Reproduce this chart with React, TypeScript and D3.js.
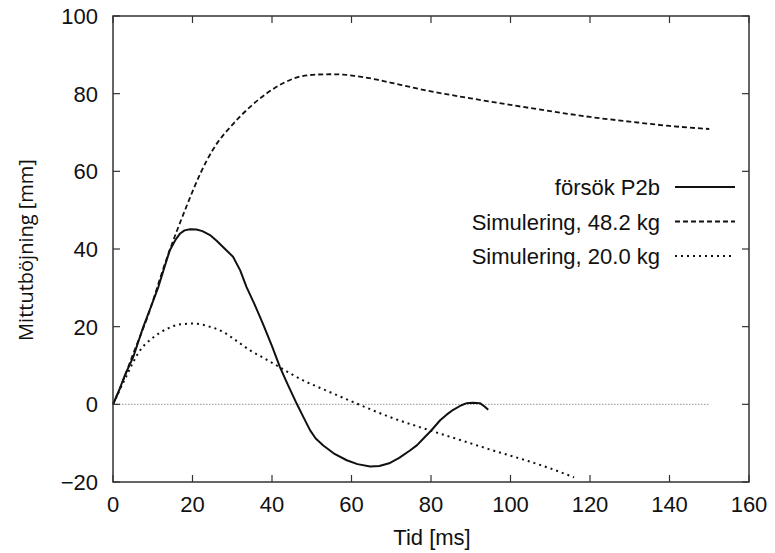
import React from "react";
import * as d3 from "d3";

const xTicks = [0, 20, 40, 60, 80, 100, 120, 140, 160];
const yTicks = [-20, 0, 20, 40, 60, 80, 100];

// försök P2b (measured)
const testX = [0, 1.5, 3, 5.1, 7.6, 9.5, 11.4, 13, 14.3, 15.8, 16.9, 18, 19.4, 21, 22.5, 24.4, 26, 28, 30.2, 32, 33.6, 35.5, 37.7, 40, 42, 44, 46.2, 48, 49.6, 51, 52.9, 55.5, 58.8, 61.5, 64.7, 67, 69.7, 72, 74.7, 76.5, 78.1, 80, 82.3, 84, 85.6, 87.5, 89, 90.5, 92.3, 93.4, 94.4];
const testY = [0, 3.5, 7.5, 12.2, 19.9, 25, 30.2, 35.5, 39.7, 42.5, 44, 44.8, 45.1, 45, 44.6, 43.6, 42.2, 40.2, 38, 34.5, 30.2, 26, 20.8, 15, 9.6, 5, 0.2, -3.5, -6.7, -8.8, -10.6, -12.6, -14.4, -15.4, -16, -15.9, -15.1, -13.8, -11.9, -10.5, -8.8, -6.8, -4.1, -2.6, -1.4, -0.3, 0.3, 0.4, 0.3, -0.5, -1.4];

// Simulering, 48.2 kg
const sim48X = [0, 2.5, 5, 8.5, 13.5, 18.5, 22, 25.2, 30.3, 34.5, 38.7, 43, 47, 51, 54.6, 58, 61.3, 66, 70, 80, 90, 100, 110, 120, 130, 140, 150];
const sim48Y = [0, 6, 12.8, 22, 37.5, 51, 59.5, 65.7, 72.3, 76.6, 80.1, 82.8, 84.4, 84.9, 85, 84.9, 84.5, 83.7, 82.8, 80.6, 78.8, 77.1, 75.5, 74.0, 72.8, 71.7, 70.9];

// Simulering, 20.0 kg
const sim20X = [0, 3, 6.8, 10.1, 13.5, 17, 20.6, 24, 27.8, 31, 34.5, 38, 41.2, 44, 47, 54, 61.3, 70, 79.7, 88, 96, 104.4, 110, 116];
const sim20Y = [0, 6.5, 13.9, 17.2, 19.4, 20.6, 20.8, 20.1, 18.6, 16.4, 13.9, 11.9, 10, 8.3, 6.6, 3.4, 0.2, -3.4, -6.7, -9.4, -12, -14.6, -16.5, -18.8];

const zeroX = [0, 150];

const legendLabels = ["försök P2b", "Simulering, 48.2 kg", "Simulering, 20.0 kg"];

const L = 113, R = 749, T = 16, B = 482;

export default function App() {
  const x = d3.scaleLinear().domain([0, 160]).range([L, R]);
  const y = d3.scaleLinear().domain([-20, 100]).range([B, T]);
  const lineLin = d3.line<[number, number]>().x(d => x(d[0])).y(d => y(d[1]));
  const lineSmooth = d3.line<[number, number]>().x(d => x(d[0])).y(d => y(d[1])).curve(d3.curveMonotoneX);
  const zip = (a: number[], b: number[]) => a.map((v, i) => [v, b[i]] as [number, number]);

  const styles = [
    { dash: undefined as string | undefined, w: 2 },
    { dash: "5,3", w: 1.8 },
    { dash: "2,4", w: 2 },
  ];
  const font = "'Liberation Sans', Arial, sans-serif";
  const axisColor = "#333";
  const fs = 22;

  return (
    <svg width={775} height={553} style={{ position: "absolute", left: 0, top: 0, background: "#fff" }}>
      <rect x={0} y={0} width={775} height={553} fill="#fff" />
      <path d={lineLin(zeroX.map(v => [v, 0] as [number, number])) || ""} stroke="#777" strokeWidth={0.8} strokeDasharray="1.5,1.5" fill="none" />
      <path d={lineSmooth(zip(sim48X, sim48Y)) || ""} stroke="#111" strokeWidth={styles[1].w} strokeDasharray={styles[1].dash} fill="none" />
      <path d={lineSmooth(zip(sim20X, sim20Y)) || ""} stroke="#111" strokeWidth={styles[2].w} strokeDasharray={styles[2].dash} fill="none" />
      <path d={lineLin(zip(testX, testY)) || ""} stroke="#111" strokeWidth={styles[0].w} fill="none" strokeLinejoin="round" />
      <rect x={L} y={T} width={R - L} height={B - T} fill="none" stroke={axisColor} strokeWidth={1.5} />
      {xTicks.map(t => (
        <g key={"x" + t}>
          <line x1={x(t)} x2={x(t)} y1={B} y2={B - 7} stroke={axisColor} strokeWidth={1.2} />
          <line x1={x(t)} x2={x(t)} y1={T} y2={T + 7} stroke={axisColor} strokeWidth={1.2} />
          <text x={x(t)} y={512} textAnchor="middle" fontFamily={font} fontSize={fs} fill="#111">{t}</text>
        </g>
      ))}
      {yTicks.map(t => (
        <g key={"y" + t}>
          <line x1={L} x2={L + 7} y1={y(t)} y2={y(t)} stroke={axisColor} strokeWidth={1.2} />
          <line x1={R} x2={R - 7} y1={y(t)} y2={y(t)} stroke={axisColor} strokeWidth={1.2} />
          <text x={98} y={y(t) + 8} textAnchor="end" fontFamily={font} fontSize={fs} fill="#111">{t < 0 ? "\u2212" + Math.abs(t) : t}</text>
        </g>
      ))}
      <text x={432} y={545} textAnchor="middle" fontFamily={font} fontSize={fs} fill="#111">Tid [ms]</text>
      <text transform="translate(33,250) rotate(-90)" textAnchor="middle" fontFamily="'Open Sans', 'DejaVu Sans', sans-serif" fontSize={20} fill="#111">Mittutböjning [mm]</text>
      {legendLabels.map((lab, i) => (
        <g key={lab}>
          <text x={660} y={187 + i * 34.5 + 8} textAnchor="end" fontFamily={font} fontSize={fs} fill="#111">{lab}</text>
          <line x1={675} x2={735} y1={187 + i * 34.5} y2={187 + i * 34.5} stroke="#111" strokeWidth={styles[i].w} strokeDasharray={styles[i].dash} />
        </g>
      ))}
    </svg>
  );
}
